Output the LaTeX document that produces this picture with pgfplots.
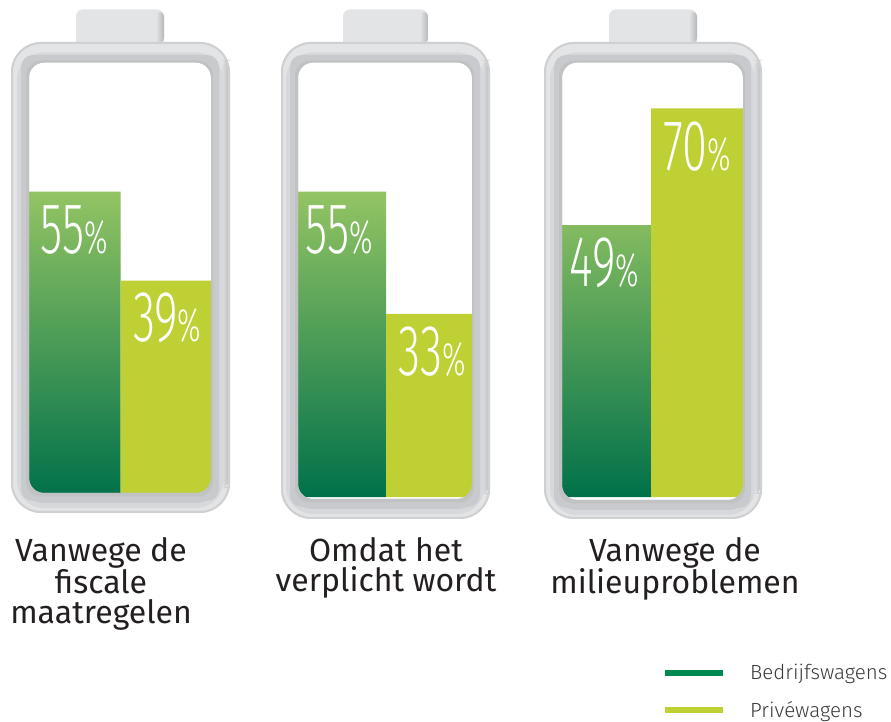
\documentclass[border=0pt]{standalone}
\usepackage{pgfplots}
\pgfplotsset{compat=1.18}
\usepackage{fontspec}
\setmainfont{Fira Sans}
\IfFontExistsTF{Fira Sans Light}{%
  \newfontfamily\thinfont{Fira Sans Light}[FakeStretch=0.63]%
  \newfontfamily\lightfont{Fira Sans Light}}{%
  \newfontfamily\thinfont{Fira Sans}[FakeStretch=0.63]%
  \newfontfamily\lightfont{Fira Sans}}
\definecolor{dg1}{HTML}{93C463}
\definecolor{dg2}{HTML}{0A9456}
\definecolor{dg3}{HTML}{00714A}
\definecolor{legdg}{HTML}{008A50}
\definecolor{lime}{HTML}{BED034}
\definecolor{shell}{HTML}{E3E4E6}
\definecolor{shadegray}{HTML}{A9ABAE}
\definecolor{txt}{HTML}{231F20}
\definecolor{txtleg}{HTML}{3A3A3C}

% L R B IL IR IB CL CR  (pixel coordinates, y downwards)
\newcommand\batteryback[8]{%
  \fill[shell, rounded corners=7pt] (#7,9.5) rectangle (#8,50);
  \shade[left color=shell, right color=shadegray!80!shell, rounded corners=4pt] ({#8-8},12) rectangle (#8,42.5);
  \fill[shell, rounded corners=30pt] (#1,42) rectangle (#2,#3);
  \shade[left color=shell, right color=shadegray!70!shell, rounded corners=10pt] ({#2-9},60) rectangle ({#2-0.5},{#3-25});
  \draw[shadegray!35!shell, line width=2pt, rounded corners=29pt] ({#1+1},43) rectangle ({#2-1},{#3-1});
  \draw[shadegray!20!shell, line width=24pt, rounded corners=15pt] (#4,{62.5+2}) rectangle (#5,{#6+3});
  \draw[shadegray!45!shell, line width=16pt, rounded corners=15pt] (#4,{62.5+1}) rectangle (#5,{#6+2});
  \fill[white, rounded corners=15pt] (#4,62.5) rectangle (#5,#6);
}
\newcommand\batteryfront[8]{%
  \fill[shadegray!45!shell, even odd rule, rounded corners=12pt] ({#4-8},55) rectangle ({#5+8},{#6+8})
     [rounded corners=15pt] (#4,62.5) rectangle (#5,#6);
  \fill[shadegray!60!shell, even odd rule, rounded corners=15pt] ({#4-3},60.5) rectangle ({#5+2},{#6+3.5})
     (#4,62.5) rectangle (#5,#6);
}

\begin{document}
\begin{tikzpicture}
\begin{scope}[x=1pt, y=-1pt, shift={(0pt,722pt)}]
  \batteryback{11}{230}{513}{29}{211}{493}{76}{164}
  \batteryback{281}{490}{519}{298}{472}{499}{343}{428}
  \batteryback{544}{762}{519}{562}{743}{500}{609}{697}
\end{scope}
\begin{axis}[
  at={(0pt,0pt)}, anchor=south west,
  width=891pt, height=722pt, scale only axis,
  xmin=0, xmax=891, ymin=-40.54, ymax=89.55,
  hide axis, clip=false,
  /pgf/number format/assume math mode=true,
  legend style={at={(axis cs:662,-30.1)}, anchor=north west, draw=none, fill=none,
    inner sep=0pt, outer sep=0pt, row sep=20pt,
    font=\lightfont\fontsize{20.5}{20.5}\selectfont, text=txtleg,
    nodes={inner sep=0pt}},
  legend cell align=left,
]
\addplot[ybar, bar width=93, bar shift=0pt, draw=none,
  top color=dg1, middle color=dg2, bottom color=dg3, forget plot,
  nodes near coords={\pgfmathprintnumber{\pgfplotspointmeta}{\fontsize{47}{47}\selectfont\%}},
  every node near coord/.append style={yshift=-63pt, inner sep=0pt, text=white,
    font=\thinfont\fontsize{72}{72}\selectfont}]
  coordinates {(74.2,55) (339.5,55) (604.5,49)};
\addplot[ybar, bar width=93, bar shift=0pt, draw=none, fill=lime, forget plot,
  nodes near coords={\pgfmathprintnumber{\pgfplotspointmeta}{\fontsize{47}{47}\selectfont\%}},
  every node near coord/.append style={yshift=-63pt, inner sep=0pt, text=white,
    font=\thinfont\fontsize{72}{72}\selectfont}]
  coordinates {(167.2,39) (432.5,33) (697.5,70)};
\addlegendimage{legend image code/.code={\draw[legdg, line width=6pt] (0pt,0pt) -- (58pt,0pt); \path (85pt,0pt);}}
\addlegendentry{Bedrijfswagens}
\addlegendimage{legend image code/.code={\draw[lime, line width=6pt] (0pt,0pt) -- (58pt,0pt); \path (85pt,0pt);}}
\addlegendentry{Privéwagens}
\end{axis}
\begin{scope}[x=1pt, y=-1pt, shift={(0pt,722pt)}]
  \batteryfront{11}{230}{513}{29}{211}{493}{76}{164}
  \batteryfront{281}{490}{519}{298}{472}{499}{343}{428}
  \batteryfront{544}{762}{519}{562}{743}{500}{609}{697}
  \begin{scope}[every node/.style={anchor=north, align=center, inner sep=0pt,
      text=txt, font=\fontsize{32}{30}\selectfont}]
    \node at (101,537) {Vanwege de\\fiscale\\maatregelen};
    \node at (386,537) {Omdat het\\verplicht wordt};
    \node at (675,537) {Vanwege de\\milieuproblemen};
  \end{scope}
\end{scope}
\pgfresetboundingbox
\path (0pt,0pt) rectangle (891pt,722pt);
\end{tikzpicture}
\end{document}
